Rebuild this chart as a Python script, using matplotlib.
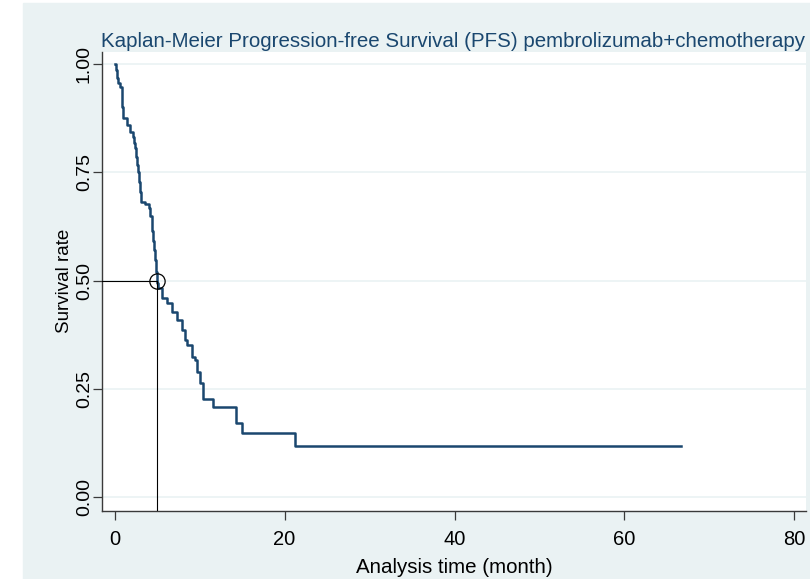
import matplotlib
matplotlib.use("Agg")
import matplotlib.pyplot as plt
from matplotlib.patches import Rectangle

# Kaplan-Meier PFS estimate (months, survival after each step)
pfs_time = [0.0, 0.15, 0.25, 0.35, 0.62, 0.82, 0.92, 1.01, 1.41, 1.80, 2.19, 2.30,
            2.39, 2.50, 2.59, 2.70, 2.86, 2.96, 3.06, 3.57, 4.07, 4.20, 4.35, 4.45,
            4.55, 4.65, 4.74, 4.84, 4.94, 5.13, 5.53, 6.12, 6.71, 7.30, 7.89, 8.27,
            8.47, 9.06, 9.45, 9.65, 10.04, 10.43, 11.60, 14.28, 14.95, 21.22, 66.7]
pfs_surv = [1.0, 0.985, 0.967, 0.955, 0.948, 0.928, 0.90, 0.875, 0.859, 0.844, 0.832, 0.818,
            0.805, 0.786, 0.767, 0.75, 0.728, 0.705, 0.682, 0.678, 0.667, 0.65, 0.636, 0.615,
            0.592, 0.57, 0.548, 0.52, 0.495, 0.482, 0.459, 0.448, 0.428, 0.409, 0.386, 0.363,
            0.351, 0.324, 0.317, 0.29, 0.263, 0.228, 0.209, 0.171, 0.149, 0.119, 0.119]

median_time = 4.94
median_surv = 0.5

x_ticks = [0, 20, 40, 60, 80]
y_ticks = [0.0, 0.25, 0.5, 0.75, 1.0]
y_labels = ["0.00", "0.25", "0.50", "0.75", "1.00"]

title = "Kaplan-Meier Progression-free Survival (PFS) pembrolizumab+chemotherapy"
navy = "#1a476f"
bg = "#eaf2f3"
axis_col = "#3a3a3a"

plt.rcParams['font.family'] = ['Liberation Sans', 'DejaVu Sans']
narrow = ['Liberation Sans Narrow', 'Liberation Sans', 'DejaVu Sans']

W, H = 810, 579
fig = plt.figure(figsize=(8.1, 5.79), dpi=100, facecolor="white")
fig.patches.append(Rectangle((23 / W, 0), 1 - 23 / W, 1 - 3 / H,
                             transform=fig.transFigure, color=bg, zorder=-10))

ax = fig.add_axes([102 / W, 1 - 511 / H, (806 - 102) / W, (511 - 51.5) / H])
ax.set_facecolor("white")
ax.set_xlim(-1.49, 81.37)
ax.set_ylim(-0.0316, 1.0288)

for y in y_ticks:
    ax.axhline(y, color=bg, lw=1.2, zorder=1)

ax.step(pfs_time, pfs_surv, where="post", color=navy, lw=1.8, zorder=3)

# median lines and marker
ax.plot([-1.49, median_time], [median_surv, median_surv], color="black", lw=0.8, zorder=4)
ax.plot([median_time, median_time], [median_surv, -0.0316], color="black", lw=0.8, zorder=4)
ax.plot([median_time], [median_surv], marker="o", ms=11, mfc="none", mec="black",
        mew=0.9, zorder=5)

for s in ["top", "right"]:
    ax.spines[s].set_visible(False)
for s in ["left", "bottom"]:
    ax.spines[s].set_color(axis_col)
    ax.spines[s].set_linewidth(1.0)

ax.set_xticks(x_ticks)
ax.set_yticks(y_ticks)
ax.set_yticklabels(y_labels, rotation=90, va="center", family=narrow, fontsize=14)
ax.tick_params(axis="x", length=6.5, width=0.9, color=axis_col, labelsize=14.5, pad=7.5)
ax.tick_params(axis="y", length=6.5, width=0.9, color=axis_col, pad=0)

ax.set_xlabel("Analysis time (month)", fontsize=14.8, labelpad=6)
ax.set_ylabel("Survival rate", family=narrow, fontsize=13.5, labelpad=2)

fig.text(101 / W, 1 - 47 / H, title, color=navy, fontsize=14.8, ha="left", va="baseline")

fig.savefig("out.png", dpi=100)
